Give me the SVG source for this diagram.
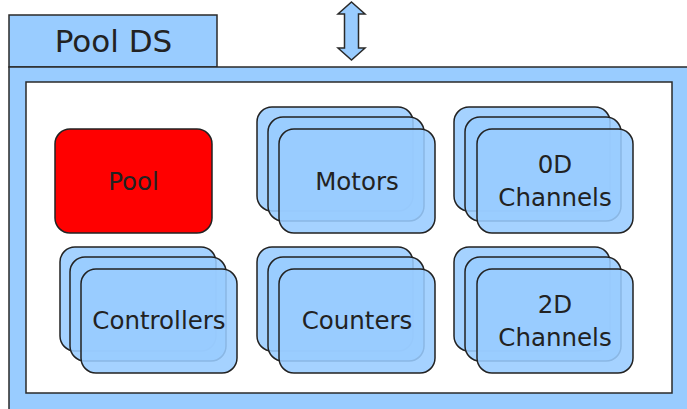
<svg xmlns="http://www.w3.org/2000/svg" width="687" height="409" viewBox="0 0 687 409">
<style>
.frame{fill:#99ccff;stroke:#2a2a2a;stroke-width:1.5}
.inner{fill:#ffffff;stroke:#2a2a2a;stroke-width:1.5}
.card{fill:#99ccff;fill-opacity:0.88;stroke:#222;stroke-width:1.5}
.pool{fill:#ff0000;stroke:#222;stroke-width:1.5}
text{font-family:"DejaVu Sans","Liberation Sans",sans-serif;fill:#222;text-anchor:middle}
.lbl{font-size:24.5px}
.title{font-size:31px}
</style>
<defs>
<rect id="c" class="card" width="156" height="104" rx="15" ry="15"/>
</defs>
<g id="frame">
<rect class="frame" x="9" y="15" width="208" height="52"/>
<rect class="frame" x="9" y="67" width="690" height="360"/>
<rect class="inner" x="26" y="82" width="646" height="311"/>
<text class="title" x="113.5" y="52">Pool DS</text>
</g>
<g id="connectors">
<path class="frame" d="M351.5,2 L365,14 L358.5,14 L358.5,48 L365,48 L351.5,60 L338,48 L344.5,48 L344.5,14 L338,14 Z"/>
</g>
<g id="pool">
<rect class="pool" x="55" y="129" width="157" height="104" rx="15" ry="15"/>
<text class="lbl" x="133.5" y="190">Pool</text>
</g>
<g id="motors">
<use href="#c" x="257" y="107"/><use href="#c" x="268" y="117"/><use href="#c" x="279" y="129"/>
<text class="lbl" x="357" y="190">Motors</text>
</g>
<g id="channels0d">
<use href="#c" x="454" y="107"/><use href="#c" x="465" y="117"/><use href="#c" x="477" y="129"/>
<text class="lbl" x="555" y="173">0D</text>
<text class="lbl" x="555" y="206">Channels</text>
</g>
<g id="controllers">
<use href="#c" x="60" y="247"/><use href="#c" x="70" y="257"/><use href="#c" x="81" y="269"/>
<text class="lbl" x="159" y="329">Controllers</text>
</g>
<g id="counters">
<use href="#c" x="257" y="247"/><use href="#c" x="268" y="257"/><use href="#c" x="279" y="269"/>
<text class="lbl" x="357" y="329">Counters</text>
</g>
<g id="channels2d">
<use href="#c" x="454" y="247"/><use href="#c" x="465" y="257"/><use href="#c" x="477" y="269"/>
<text class="lbl" x="555" y="313">2D</text>
<text class="lbl" x="555" y="346">Channels</text>
</g>
</svg>
